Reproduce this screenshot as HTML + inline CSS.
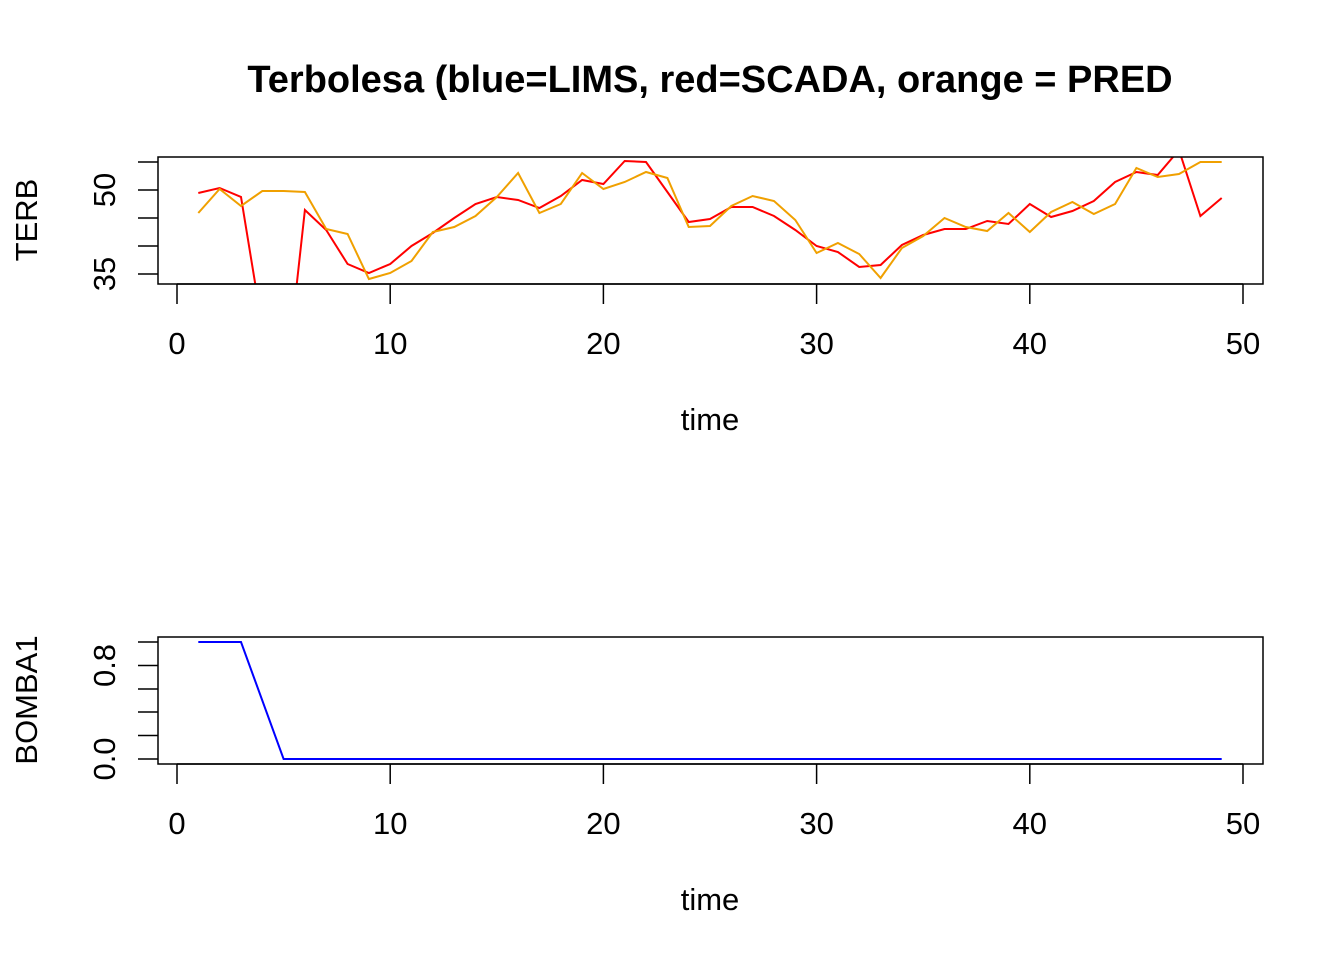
<!DOCTYPE html>
<html><head><style>body{margin:0;background:#fff}svg{display:block}</style></head><body>
<svg width="1344" height="960" xmlns="http://www.w3.org/2000/svg" font-family="Liberation Sans, Arial, sans-serif">
<defs>
<clipPath id="c1"><rect x="158" y="157" width="1105" height="127"/></clipPath>
</defs>
<text x="710" y="92" text-anchor="middle" font-size="38" font-weight="bold">Terbolesa (blue=LIMS, red=SCADA, orange = PRED</text>
<g clip-path="url(#c1)" fill="none" stroke-width="2">
<polyline stroke="#ff0000" points="198.3,193 219.6,188 241,197 262.3,327 283.6,404 304.9,210 326.2,230 347.6,264 368.9,273 390.2,264 411.5,246 432.8,233 454.2,218 475.5,204 496.8,197 518.1,200 539.4,208 560.8,196 582.1,180 603.4,184 624.7,161 646,162 667.4,192 688.7,222 710,219 731.3,207 752.6,207 774,216 795.3,230 816.6,246 837.9,252 859.2,267 880.6,265 901.9,245 923.2,235 944.5,229 965.8,229 987.2,221 1008.5,224 1029.8,204 1051.1,217 1072.4,211 1093.8,201 1115.1,182 1136.4,172 1157.7,175 1179,150 1200.4,216 1221.7,198"/>
<polyline stroke="#f0a000" points="198.3,213 219.6,189 241,206 262.3,191 283.6,191 304.9,192 326.2,229 347.6,234 368.9,279 390.2,273 411.5,261 432.8,232 454.2,227 475.5,216 496.8,197 518.1,173 539.4,213 560.8,204 582.1,173 603.4,189 624.7,182 646,172 667.4,178 688.7,227 710,226 731.3,206 752.6,196 774,201 795.3,220 816.6,253 837.9,243 859.2,254 880.6,278 901.9,248 923.2,236 944.5,218 965.8,227 987.2,231 1008.5,213 1029.8,232 1051.1,212 1072.4,202 1093.8,214 1115.1,204 1136.4,168 1157.7,177 1179,174 1200.4,162 1221.7,162"/>
</g>
<rect x="158" y="157" width="1105" height="127" fill="none" stroke="#000" stroke-width="1.5"/>
<g stroke="#000" stroke-width="1.5">
<line x1="138" y1="162" x2="158" y2="162"/><line x1="138" y1="190" x2="158" y2="190"/><line x1="138" y1="218" x2="158" y2="218"/><line x1="138" y1="246" x2="158" y2="246"/><line x1="138" y1="274" x2="158" y2="274"/>
<line x1="177" y1="284" x2="1243" y2="284"/>
<line x1="177" y1="284" x2="177" y2="304"/><line x1="390.2" y1="284" x2="390.2" y2="304"/><line x1="603.4" y1="284" x2="603.4" y2="304"/><line x1="816.6" y1="284" x2="816.6" y2="304"/><line x1="1029.8" y1="284" x2="1029.8" y2="304"/><line x1="1243" y1="284" x2="1243" y2="304"/>
</g>
<g font-size="31" text-anchor="middle">
<text x="177" y="354">0</text><text x="390.2" y="354">10</text><text x="603.4" y="354">20</text><text x="816.6" y="354">30</text><text x="1029.8" y="354">40</text><text x="1243" y="354">50</text>
<text x="710" y="430">time</text>
<text transform="translate(115,190) rotate(-90)">50</text>
<text transform="translate(115,274) rotate(-90)">35</text>
<text transform="translate(37,220) rotate(-90)">TERB</text>
</g>
<polyline fill="none" stroke="#0000ff" stroke-width="2" points="198.3,642 241,642 283.6,759 1221.7,759"/>
<rect x="158" y="637" width="1105" height="127" fill="none" stroke="#000" stroke-width="1.5"/>
<g stroke="#000" stroke-width="1.5">
<line x1="138" y1="642" x2="158" y2="642"/><line x1="138" y1="665.5" x2="158" y2="665.5"/><line x1="138" y1="689" x2="158" y2="689"/><line x1="138" y1="712" x2="158" y2="712"/><line x1="138" y1="735.5" x2="158" y2="735.5"/><line x1="138" y1="759" x2="158" y2="759"/>
<line x1="177" y1="764" x2="1243" y2="764"/>
<line x1="177" y1="764" x2="177" y2="784"/><line x1="390.2" y1="764" x2="390.2" y2="784"/><line x1="603.4" y1="764" x2="603.4" y2="784"/><line x1="816.6" y1="764" x2="816.6" y2="784"/><line x1="1029.8" y1="764" x2="1029.8" y2="784"/><line x1="1243" y1="764" x2="1243" y2="784"/>
</g>
<g font-size="31" text-anchor="middle">
<text x="177" y="834">0</text><text x="390.2" y="834">10</text><text x="603.4" y="834">20</text><text x="816.6" y="834">30</text><text x="1029.8" y="834">40</text><text x="1243" y="834">50</text>
<text x="710" y="910">time</text>
<text transform="translate(115,665.5) rotate(-90)">0.8</text>
<text transform="translate(115,759) rotate(-90)">0.0</text>
<text transform="translate(37,700) rotate(-90)">BOMBA1</text>
</g>
</svg>
</body></html>
